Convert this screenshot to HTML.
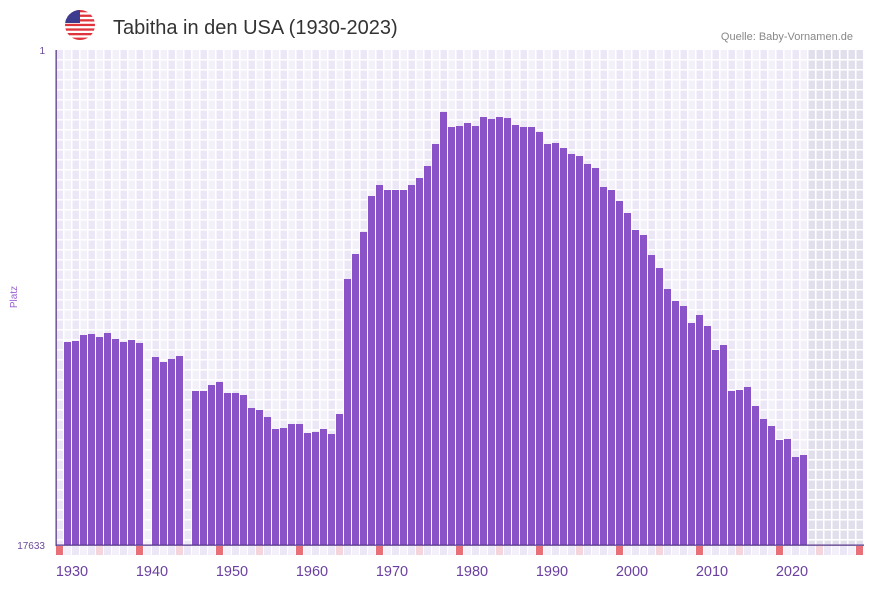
<!DOCTYPE html>
<html><head><meta charset="utf-8">
<style>
body{margin:0;background:#fff;width:873px;height:587px;overflow:hidden;font-family:"Liberation Sans",sans-serif}
</style></head><body>
<svg id="s" width="873" height="587" xmlns="http://www.w3.org/2000/svg">
<defs><clipPath id="fc"><circle cx="80" cy="25" r="15"/></clipPath></defs>
<g clip-path="url(#fc)">
<rect x="65" y="10" width="30" height="30" fill="#fff"/>
<rect x="65" y="10" width="30" height="2.3" fill="#e0343c"/>
<rect x="65" y="14.6" width="30" height="2.3" fill="#e0343c"/>
<rect x="65" y="19.2" width="30" height="2.3" fill="#e0343c"/>
<rect x="65" y="23.8" width="30" height="2.3" fill="#e0343c"/>
<rect x="65" y="28.4" width="30" height="2.3" fill="#e0343c"/>
<rect x="65" y="33" width="30" height="2.3" fill="#e0343c"/>
<rect x="65" y="37.6" width="30" height="2.4" fill="#e0343c"/>
<rect x="65" y="10" width="15" height="13" fill="#3c3b8e"/>
</g>
<text x="113" y="34" font-size="20" fill="#333">Tabitha in den USA (1930-2023)</text>
<text x="853" y="40" font-size="11" fill="#888" text-anchor="end">Quelle: Baby-Vornamen.de</text>
<text x="45" y="54" font-size="10" fill="#6a4a9a" text-anchor="end">1</text>
<text x="45" y="549" font-size="10" fill="#6a4a9a" text-anchor="end">17633</text>
<text x="17" y="297" font-size="10" fill="#9a5fd0" text-anchor="middle" transform="rotate(-90 17 297)">Platz</text>
<g id="g"></g>
</svg>
<script>
var g=document.getElementById('g'),h='';
for(var i=0;i<101;i++){var x=56+i*8;h+='<rect x="'+x+'" y="50" width="8" height="495" fill="'+(i%2?'#f3f0fa':'#ece7f7')+'"/>';}
h+='<rect x="808" y="50" width="56" height="495" fill="#e2dfec"/>';
for(var i=0;i<=101;i++){h+='<rect x="'+(55+i*8)+'" y="50" width="1.5" height="495" fill="#fff"/>';}
for(var y=60;y<545;y+=10){h+='<rect x="56" y="'+(y-1)+'" width="808" height="1.5" fill="#fff"/>';}
var d={1930:342,1931:341,1932:335,1933:334,1934:337,1935:333,1936:339,1937:342,1938:340,1939:343,1941:357,1942:362,1943:359,1944:356,
1946:391,1947:391,1948:385,1949:382,1950:393,1951:393,1952:395,1953:408,1954:410,1955:417,1956:429,1957:428,1958:424,1959:424,1960:433,1961:432,1962:429,1963:434,1964:414,1965:279,1966:254,1967:232,1968:196,1969:185,1970:190,1971:190,1972:190,1973:185,1974:178,1975:166,1976:144,1977:112,1978:127,1979:126,1980:123,1981:126,1982:117,1983:119,1984:117,1985:118,1986:125,1987:127,1988:127,1989:132,1990:144,1991:143,1992:148,1993:154,1994:156,1995:164,1996:168,1997:187,1998:190,1999:201,2000:213,2001:230,2002:235,2003:255,2004:268,2005:289,2006:301,2007:306,2008:323,2009:315,2010:326,2011:350,2012:345,2013:391,2014:390,2015:387,2016:406,2017:419,2018:426,2019:440,2020:439,2021:457,2022:455};
for(var k in d){var x=64+(k-1930)*8;h+='<rect x="'+x+'" y="'+d[k]+'" width="7" height="'+(545-d[k])+'" fill="#8b53c8"/>';}
for(var i=0;i<101;i++){var yr=1929+i,x=56+i*8,c=(yr%10==9)?'#e87078':(yr%10==4?'#f5d5dc':(i%2?'#f3f0fa':'#ece7f7'));h+='<rect x="'+x+'" y="546" width="7" height="9" fill="'+c+'"/>';}
h+='<rect x="55.5" y="50" width="1.3" height="496" fill="#5a3a8a"/><rect x="56" y="544.5" width="808" height="1.3" fill="#5a3a8a"/>';
for(var i=0;i<10;i++){h+='<text x="'+(72+i*80)+'" y="576" font-size="14.5" fill="#6a3fa0" text-anchor="middle">'+(1930+i*10)+'</text>';}
g.innerHTML=h;
</script>
</body></html>
